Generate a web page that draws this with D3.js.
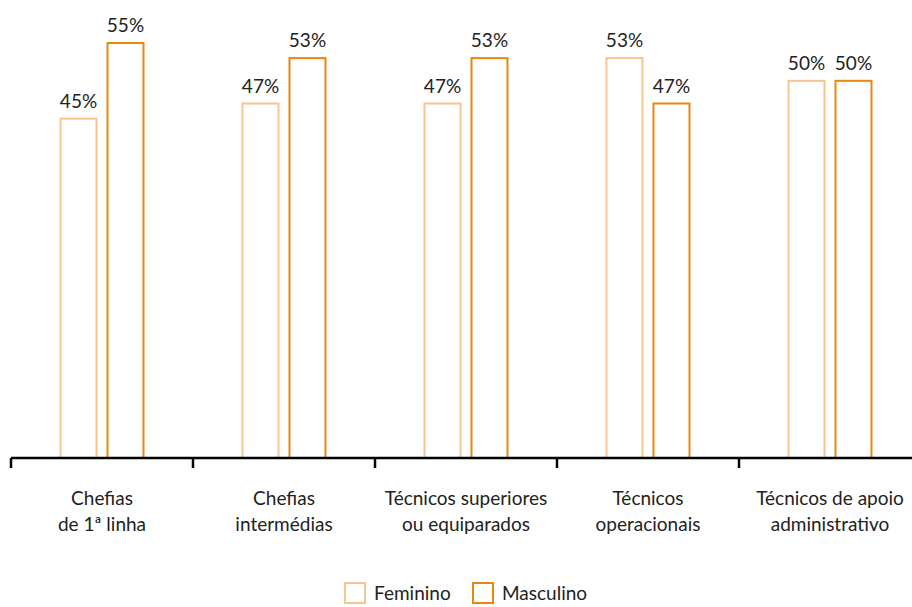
<!DOCTYPE html>
<html><head><meta charset="utf-8">
<script src="https://cdn.jsdelivr.net/npm/d3@7"></script>
<style>body{margin:0;background:#fff;} text{font-family:"Lato","Open Sans",sans-serif;fill:#222;}</style>
</head><body>
<svg id="c" width="912" height="607"></svg>
<script>
const categories = [["Chefias","de 1ª linha"],["Chefias","intermédias"],["Técnicos superiores","ou equiparados"],["Técnicos","operacionais"],["Técnicos de apoio","administrativo"]];
const seriesNames = ["Feminino","Masculino"];
const feminino = [45,47,47,53,50];
const masculino = [55,53,53,47,50];
const colors = ["#f8c58c","#e8870e"];

const svg = d3.select("#c");
const x = d3.scaleBand().domain(d3.range(categories.length)).range([11, 921]).padding(0);
const y = d3.scaleLinear().domain([0,55]).range([458,42]);
const xs = d3.scaleBand().domain(seriesNames).range([0, x.bandwidth()]).paddingInner(0.1915).paddingOuter(1.032);

const data = [feminino, masculino];
seriesNames.forEach((s, si) => {
  const g = svg.append("g");
  g.selectAll("rect").data(data[si]).join("rect")
    .attr("x", (d,i) => x(i) + xs(s) + 1)
    .attr("y", d => y(d) + 1)
    .attr("width", xs.bandwidth() - 2)
    .attr("height", d => 458 - y(d) - 1)
    .attr("fill", "#fff").attr("stroke", colors[si]).attr("stroke-width", 2);
  g.selectAll("text").data(data[si]).join("text")
    .attr("x", (d,i) => x(i) + xs(s) + xs.bandwidth()/2)
    .attr("y", d => y(d) - 10)
    .attr("text-anchor","middle").attr("font-size",19)
    .text(d => d + "%");
});

const ag = svg.append("g").attr("transform","translate(0,458)");
ag.append("line").attr("x1",11).attr("x2",921).attr("stroke","#000").attr("stroke-width",2.5);
x.domain().forEach(i => {
  ag.append("line").attr("x1",x(i)).attr("x2",x(i)).attr("y1",0).attr("y2",10).attr("stroke","#000").attr("stroke-width",2.5);
});
x.domain().forEach(i => {
  const t = svg.append("text").attr("x", x(i)+x.bandwidth()/2).attr("text-anchor","middle").attr("font-size",19);
  categories[i].forEach((line, li) => {
    t.append("tspan").attr("x", x(i)+x.bandwidth()/2).attr("y", 505 + li*26).text(line);
  });
});

// legend
const lx = [345, 473];
seriesNames.forEach((s, si) => {
  svg.append("rect").attr("x", lx[si]).attr("y", 583).attr("width", 20).attr("height", 20)
    .attr("fill","#fff").attr("stroke", colors[si]).attr("stroke-width",2);
  svg.append("text").attr("x", lx[si] + 29).attr("y", 600).attr("font-size",19).text(s);
});
</script>
</body></html>
